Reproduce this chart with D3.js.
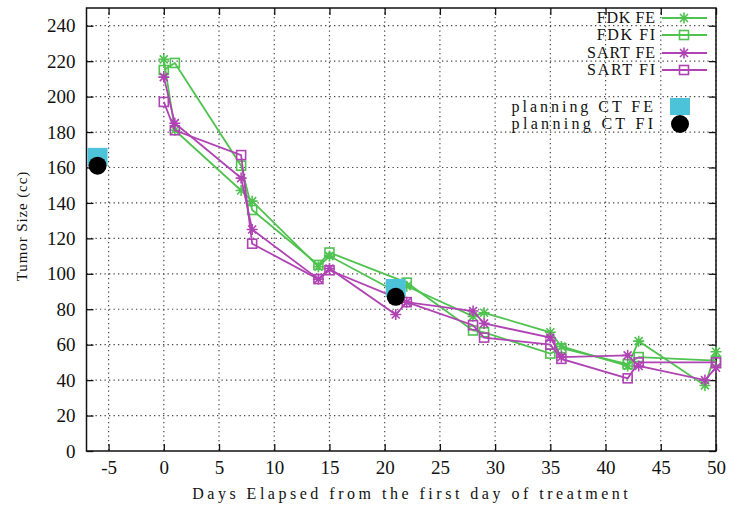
<!DOCTYPE html>
<html>
<head>
<meta charset="utf-8">
<script src="https://cdn.jsdelivr.net/npm/d3@7"></script>
<style>
  body { margin: 0; background: #fff; }
  text { font-family: "Liberation Serif", "DejaVu Serif", serif; fill: #111; }
</style>
</head>
<body>
<div id="chart"></div>
<script>
// tumor size per day
const fdkFeDays = [0, 1, 7, 8, 14, 15, 21, 22, 28, 29, 35, 36, 42, 43, 49, 50];
const fdkFeVals = [221, 181, 147, 141, 104, 110, 90, 93, 76, 78, 67, 59, 48, 62, 37, 56];

const fdkFiDays = [0, 1, 7, 8, 14, 15, 22, 28, 29, 35, 36, 42, 43, 50];
const fdkFiVals = [215, 219, 161, 136, 105, 112, 95, 68, 67, 55, 58, 49, 53, 51];

const sartFeDays = [0, 1, 7, 8, 14, 15, 21, 22, 28, 29, 35, 36, 42, 43, 49, 50];
const sartFeVals = [211, 185, 154, 125, 97, 103, 77, 84, 79, 72, 64, 53, 54, 48, 40, 47];

const sartFiDays = [0, 1, 7, 8, 14, 15, 22, 28, 29, 35, 36, 42, 43, 50];
const sartFiVals = [197, 181, 167, 117, 97, 102, 84, 71, 64, 60, 52, 41, 50, 50];

const planFeDays = [-6, 21];
const planFeVals = [166, 92];
const planFiDays = [-6, 21];
const planFiVals = [161, 87];

const xTicks = [-5, 0, 5, 10, 15, 20, 25, 30, 35, 40, 45, 50];
const yTicks = [0, 20, 40, 60, 80, 100, 120, 140, 160, 180, 200, 220, 240];

;(function () {
  const W = 730, H = 508;
  const left = 86.5, right = 716, top = 8, bottom = 451;
  const green = "#4fc24f", purple = "#b043b4";

  const svg = d3.select("#chart").append("svg")
    .attr("width", W).attr("height", H);

  const x = d3.scaleLinear().domain([-7, 50]).range([left, right]);
  const y = d3.scaleLinear().domain([0, 250]).range([bottom, top]);

  // the original font is monospaced: stretch spacing so each string
  // takes about one cell per character
  function cellText(parent, str, px, py, adv, size, anchor) {
    return parent.append("text")
      .attr("x", px).attr("y", py)
      .attr("text-anchor", anchor)
      .attr("textLength", (str.length * adv).toFixed(1))
      .attr("lengthAdjust", "spacing")
      .style("font-size", size + "px")
      .text(str);
  }

  // dotted grid
  const grid = svg.append("g").attr("stroke", "#444").attr("stroke-width", 1.2)
    .attr("stroke-dasharray", "1.3,3.2");
  grid.selectAll(".gx").data(xTicks).enter().append("line")
    .attr("x1", d => x(d)).attr("x2", d => x(d))
    .attr("y1", top).attr("y2", bottom);
  grid.selectAll(".gy").data(yTicks.filter(d => d > 0)).enter().append("line")
    .attr("x1", left).attr("x2", right)
    .attr("y1", d => y(d)).attr("y2", d => y(d));

  // axes with inner ticks, mirrored on top/right
  const tickLen = 7;
  const fmt = d => String(d);
  const axB = d3.axisBottom(x).tickValues(xTicks).tickFormat(fmt).tickSizeInner(-tickLen).tickSizeOuter(0).tickPadding(10);
  const axT = d3.axisTop(x).tickValues(xTicks).tickSizeInner(-tickLen).tickSizeOuter(0).tickFormat("");
  const axL = d3.axisLeft(y).tickValues(yTicks).tickFormat(fmt).tickSizeInner(-tickLen).tickSizeOuter(0).tickPadding(11);
  const axR = d3.axisRight(y).tickValues(yTicks).tickSizeInner(-tickLen).tickSizeOuter(0).tickFormat("");

  function styleAxis(g) {
    g.select(".domain").remove();
    g.selectAll(".tick line").attr("stroke", "#111").attr("stroke-width", 1.3);
    g.selectAll(".tick text")
      .style("font-family", "'Liberation Serif', serif")
      .style("font-size", "19px").attr("fill", "#111");
  }
  svg.append("g").attr("transform", `translate(0,${bottom})`).call(axB).call(styleAxis);
  svg.append("g").attr("transform", `translate(0,${top})`).call(axT).call(styleAxis);
  svg.append("g").attr("transform", `translate(${left},0)`).call(axL).call(styleAxis);
  svg.append("g").attr("transform", `translate(${right},0)`).call(axR).call(styleAxis);

  svg.append("rect")
    .attr("x", left).attr("y", top).attr("width", right - left).attr("height", bottom - top)
    .attr("fill", "none").attr("stroke", "#111").attr("stroke-width", 1.5);

  // axis titles
  cellText(svg, "Days Elapsed from the first day of treatment", 410, 499, 9.9, 16, "middle");

  const yTitle = svg.append("g").attr("transform", `translate(27,${(top + bottom) / 2 - 3}) rotate(-90)`);
  cellText(yTitle, "Tumor Size (cc)", 0, 0, 7.3, 15, "middle");

  const star = "M-5.5,0H5.5M0,-5.5V5.5M-4,-4L4,4M-4,4L4,-4";
  const series = [
    { name: "FDK FE", days: fdkFeDays, vals: fdkFeVals, color: green, mark: "star" },
    { name: "FDK FI", days: fdkFiDays, vals: fdkFiVals, color: green, mark: "square" },
    { name: "SART FE", days: sartFeDays, vals: sartFeVals, color: purple, mark: "star" },
    { name: "SART FI", days: sartFiDays, vals: sartFiVals, color: purple, mark: "square" }
  ];

  function drawMark(g, s) {
    if (s.mark === "star") {
      g.append("path").attr("d", star).attr("stroke", s.color).attr("stroke-width", 1.6).attr("fill", "none");
    } else {
      g.append("rect").attr("x", -4.5).attr("y", -4.5).attr("width", 9).attr("height", 9)
        .attr("stroke", s.color).attr("stroke-width", 1.6).attr("fill", "none");
    }
  }

  const line = d3.line().x(d => x(d[0])).y(d => y(d[1]));

  series.forEach(s => {
    const pts = s.days.map((d, i) => [d, s.vals[i]]);
    svg.append("path").datum(pts)
      .attr("d", line).attr("fill", "none")
      .attr("stroke", s.color).attr("stroke-width", 1.8);
    pts.forEach(p => {
      const g = svg.append("g").attr("transform", `translate(${x(p[0])},${y(p[1])})`);
      drawMark(g, s);
    });
  });

  // planning CT points
  planFeDays.forEach((d, i) => {
    svg.append("rect")
      .attr("x", x(d) - 10).attr("y", y(planFeVals[i]) - 9)
      .attr("width", 20).attr("height", 18)
      .attr("fill", "#4cc3d9");
  });
  planFiDays.forEach((d, i) => {
    svg.append("circle")
      .attr("cx", x(d)).attr("cy", y(planFiVals[i])).attr("r", 9)
      .attr("fill", "#000");
  });

  // legend
  const legRows = [18, 35, 53, 70];
  series.forEach((s, i) => {
    const ly = legRows[i];
    cellText(svg, s.name, 655, ly + 5, 9.7, 16, "end");
    svg.append("line").attr("x1", 662).attr("x2", 707).attr("y1", ly).attr("y2", ly)
      .attr("stroke", s.color).attr("stroke-width", 1.8);
    const g = svg.append("g").attr("transform", `translate(684,${ly})`);
    drawMark(g, s);
  });

  cellText(svg, "planning CT FE", 653, 112, 10.1, 16, "end");
  svg.append("rect").attr("x", 670).attr("y", 98).attr("width", 20).attr("height", 17)
    .attr("fill", "#4cc3d9");
  cellText(svg, "planning CT FI", 653, 129, 10.1, 16, "end");
  svg.append("circle").attr("cx", 680).attr("cy", 124).attr("r", 9).attr("fill", "#000");
})()
</script>
</body>
</html>
